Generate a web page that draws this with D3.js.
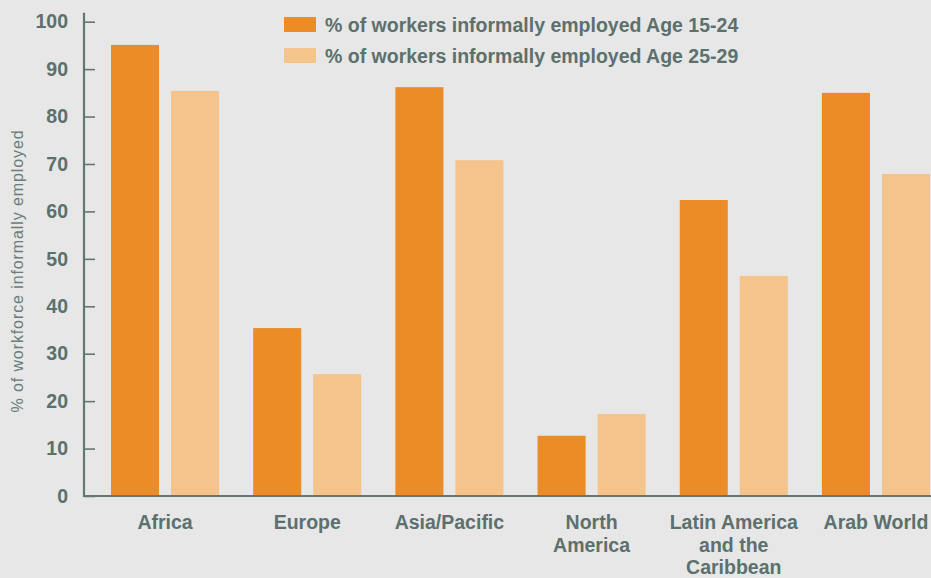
<!DOCTYPE html>
<html>
<head>
<meta charset="utf-8">
<script src="https://cdn.jsdelivr.net/npm/d3@7"></script>
<style>
  html, body { margin: 0; padding: 0; background: #e6e7e6; }
  svg { display: block; }
  text { font-family: "Liberation Sans", Arial, Helvetica, sans-serif; }
</style>
</head>
<body>
<svg id="chart" width="931" height="578"></svg>
<script>
// Regions shown along the x axis (line breaks are split on "\n")
const regions = ["Africa", "Europe", "Asia/Pacific", "North\nAmerica", "Latin America\nand the\nCaribbean", "Arab World"];
const seriesNames = ["% of workers informally employed Age 15-24", "% of workers informally employed Age 25-29"];
const age15to24 = [95.1, 35.4, 86.2, 12.7, 62.4, 85.0];
const age25to29 = [85.4, 25.7, 70.8, 17.3, 46.4, 67.9];
const yTicks = [0, 10, 20, 30, 40, 50, 60, 70, 80, 90, 100];
const yTitle = "% of workforce informally employed";

const colors = ["#eb8c26", "#f4c48c"];
const textColor = "#5c706e";
const axisColor = "#647775";

const W = 931, H = 578;
const svg = d3.select("#chart");
svg.append("rect").attr("width", W).attr("height", H).attr("fill", "#e6e7e6");

const rows = regions.map((r, i) => ({ region: r, values: [age15to24[i], age25to29[i]] }));

const y = d3.scaleLinear().domain([0, 100]).range([496, 21.7]);

const x0 = d3.scaleBand()
  .domain(regions)
  .range([84, 957])
  .paddingInner(0.24)
  .paddingOuter(0.19);

const x1 = d3.scaleBand()
  .domain(d3.range(seriesNames.length))
  .range([0, x0.bandwidth()])
  .paddingInner(0.2)
  .paddingOuter(0);

// Bars
const groups = svg.append("g").selectAll("g")
  .data(rows)
  .join("g")
  .attr("transform", d => `translate(${x0(d.region)},0)`);

groups.selectAll("rect")
  .data(d => d.values.map((v, k) => ({ v, k })))
  .join("rect")
  .attr("x", d => x1(d.k))
  .attr("width", x1.bandwidth())
  .attr("y", d => y(d.v))
  .attr("height", d => y(0) - y(d.v))
  .attr("fill", d => colors[d.k]);

// Y axis: ticks point into the plot, labels to the left
const yAxis = d3.axisLeft(y)
  .tickValues(yTicks)
  .tickSizeInner(-11)
  .tickSizeOuter(0)
  .tickPadding(16)
  .tickFormat(d3.format("d"));

const gy = svg.append("g")
  .attr("transform", "translate(84,0)")
  .call(yAxis);
gy.select(".domain").remove();
gy.selectAll(".tick line").attr("stroke", axisColor).attr("stroke-width", 1.6);
gy.selectAll(".tick text")
  .attr("fill", textColor)
  .style("font-size", "19.5px")
  .style("font-weight", "bold");

// Axis lines
svg.append("line")
  .attr("x1", 84).attr("x2", 84)
  .attr("y1", y(0) + 1).attr("y2", y(100) - 9)
  .attr("stroke", axisColor).attr("stroke-width", 2.2);
svg.append("line")
  .attr("x1", 83).attr("x2", x0.range()[1])
  .attr("y1", y(0)).attr("y2", y(0))
  .attr("stroke", axisColor).attr("stroke-width", 2.2);

// X category labels
const xl = svg.append("g").selectAll("text")
  .data(regions)
  .join("text")
  .attr("x", d => x0(d) + x0.bandwidth() / 2)
  .attr("y", 529)
  .attr("text-anchor", "middle")
  .attr("fill", textColor)
  .style("font-size", "19.5px")
  .style("font-weight", "bold");
xl.each(function(d) {
  const t = d3.select(this);
  d.split("\n").forEach((line, i) => {
    t.append("tspan")
      .attr("x", x0(d) + x0.bandwidth() / 2)
      .attr("dy", i === 0 ? 0 : 22.5)
      .text(line);
  });
});

// Y axis title
svg.append("text")
  .attr("transform", `translate(23,${271}) rotate(-90)`)
  .attr("text-anchor", "middle")
  .attr("fill", "#6a7d7b")
  .style("font-size", "16px")
  .style("letter-spacing", "0.9px")
  .text(yTitle);

// Legend
const legend = svg.append("g").attr("transform", "translate(284,17)");
const li = legend.selectAll("g")
  .data(seriesNames)
  .join("g")
  .attr("transform", (d, i) => `translate(0,${i * 31})`);
li.append("rect")
  .attr("width", 32).attr("height", 15)
  .attr("fill", (d, i) => colors[i]);
li.append("text")
  .attr("x", 41).attr("y", 15)
  .attr("fill", textColor)
  .style("font-size", "19.5px")
  .style("font-weight", "bold")
  .text(d => d);
</script>
</body>
</html>
